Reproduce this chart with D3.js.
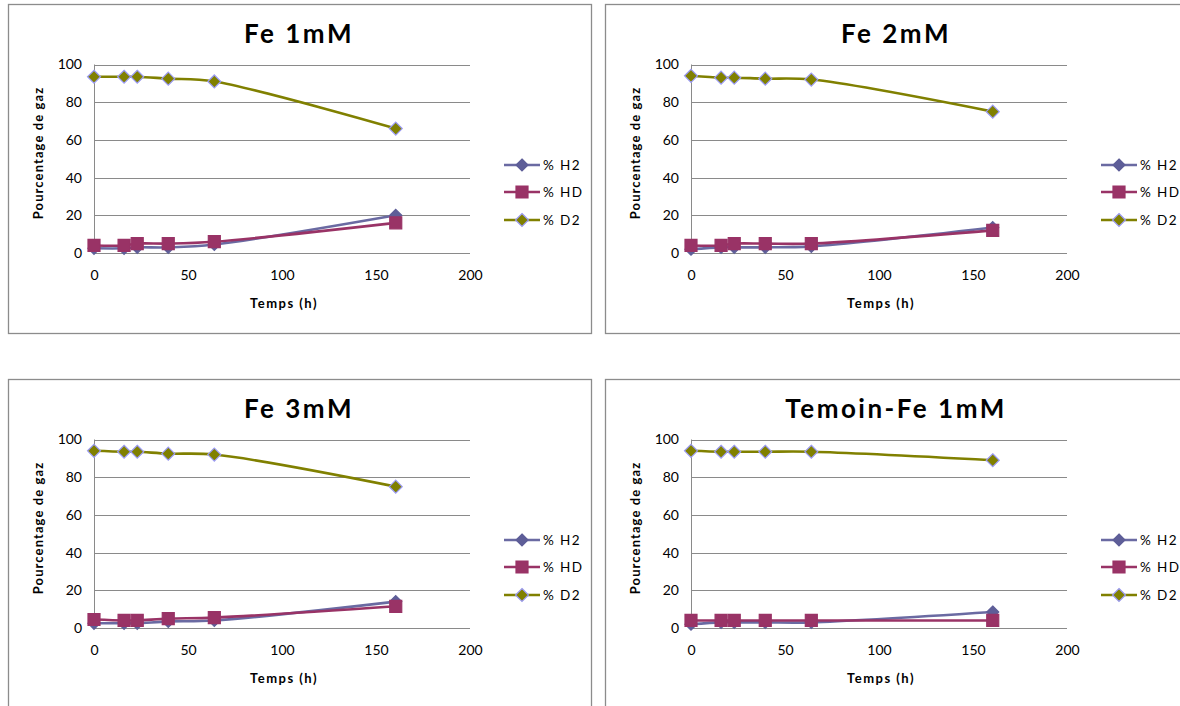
<!DOCTYPE html>
<html>
<head>
<meta charset="utf-8">
<script src="https://cdn.jsdelivr.net/npm/d3@7"></script>
<style>
  html, body { margin: 0; padding: 0; background: #ffffff; }
  svg { display: block; }
  text { font-family: Lato, "Open Sans", "Liberation Sans", sans-serif; fill: #000; }
</style>
</head>
<body>
<svg id="chart" width="1180" height="706"></svg>
<script>
// ---- data ----
const times = [0, 16, 23, 39.5, 64, 160.5];
const seriesNames = ["% H2", "% HD", "% D2"];
const panelTitles = ["Fe 1mM", "Fe 2mM", "Fe 3mM", "Temoin-Fe 1mM"];
const xTicks = [0, 50, 100, 150, 200];
const yTicks = [0, 20, 40, 60, 80, 100];

const fe1_H2 = [2.5, 2.5, 3, 3, 4.5, 20];
const fe1_HD = [4, 4, 5, 5, 6, 16];
const fe1_D2 = [93.5, 93.5, 93.5, 92.5, 91, 66];

const fe2_H2 = [2, 3, 3, 3, 3.5, 13.5];
const fe2_HD = [4, 4, 5, 5, 5, 12];
const fe2_D2 = [94, 93, 93, 92.5, 92, 75];

const fe3_H2 = [2.5, 2.5, 2.5, 3.5, 4, 14];
const fe3_HD = [4.5, 4, 4, 5, 5.5, 11.5];
const fe3_D2 = [94, 93.5, 93.5, 92.5, 92, 75];

const tem_H2 = [2, 3, 3, 3, 3, 8.5];
const tem_HD = [4, 4, 4, 4, 4, 4];
const tem_D2 = [94, 93.5, 93.5, 93.5, 93.5, 89];

const panelData = [
  [fe1_H2, fe1_HD, fe1_D2],
  [fe2_H2, fe2_HD, fe2_D2],
  [fe3_H2, fe3_HD, fe3_D2],
  [tem_H2, tem_HD, tem_D2]
];

// ---- styles ----
const styles = [
  { line: "#6A6AA2", fill: "#5E5E98", stroke: "#5E5E98", shape: "diamond", r: 6 },
  { line: "#993366", fill: "#993366", stroke: "#993366", shape: "square", r: 6 },
  { line: "#808000", fill: "#808000", stroke: "#9B9BF5", shape: "diamond", r: 6.5 }
];
const offsets = [[0, 0], [597, 0], [0, 375], [597, 375]];

const svg = d3.select("#chart");

function markerPath(shape, r) {
  const p = d3.path();
  if (shape === "square") {
    p.rect(-r, -r, 2 * r, 2 * r);
  } else {
    p.moveTo(0, -r); p.lineTo(r, 0); p.lineTo(0, r); p.lineTo(-r, 0); p.closePath();
  }
  return p.toString();
}

panelTitles.forEach((title, pi) => {
  const [dx, dy] = offsets[pi];
  const g = svg.append("g").attr("transform", `translate(${dx},${dy})`);

  // chart box
  g.append("rect")
    .attr("x", 8.5).attr("y", 4.5)
    .attr("width", 583).attr("height", 329)
    .attr("fill", "#fff")
    .attr("stroke", "#8c8c8c").attr("stroke-width", 1.3);

  const x = d3.scaleLinear().domain([0, 200]).range([94, 470]);
  const y = d3.scaleLinear().domain([0, 100]).range([253, 64.5]);

  // gridlines
  g.append("g").selectAll("line").data(yTicks).join("line")
    .attr("x1", x(0)).attr("x2", x(200))
    .attr("y1", d => Math.round(y(d)) + 0.5).attr("y2", d => Math.round(y(d)) + 0.5)
    .attr("stroke", "#8a8a8a").attr("stroke-width", 1);

  // y axis line
  g.append("line")
    .attr("x1", x(0) + 0.5).attr("x2", x(0) + 0.5)
    .attr("y1", y(0)).attr("y2", y(100))
    .attr("stroke", "#8a8a8a").attr("stroke-width", 1);

  // axes labels
  const yAxis = g.append("g").attr("transform", `translate(${x(0)},0)`)
    .call(d3.axisLeft(y).tickValues(yTicks).tickSize(0).tickPadding(12));
  yAxis.select(".domain").remove();
  yAxis.selectAll("text").style("font-size", "14px")
    .style("font-family", "Lato, 'Open Sans', sans-serif").attr("fill", "#000");

  const xAxis = g.append("g").attr("transform", `translate(0,${y(0)})`)
    .call(d3.axisBottom(x).tickValues(xTicks).tickSize(0).tickPadding(17));
  xAxis.select(".domain").remove();
  xAxis.selectAll("text").style("font-size", "14px")
    .style("font-family", "Lato, 'Open Sans', sans-serif").attr("fill", "#000");

  // title
  g.append("text")
    .attr("x", 299).attr("y", 43)
    .attr("text-anchor", "middle")
    .style("font-size", "26px").style("font-weight", "bold")
    .style("letter-spacing", "2.5px")
    .text(title);

  // axis titles
  g.append("text")
    .attr("x", 284).attr("y", 308)
    .attr("text-anchor", "middle")
    .style("font-size", "13px").style("font-weight", "bold")
    .style("letter-spacing", "1.5px")
    .text("Temps (h)");

  g.append("text")
    .attr("transform", `translate(43,153) rotate(-90)`)
    .attr("text-anchor", "middle")
    .style("font-size", "13px").style("font-weight", "bold")
    .style("letter-spacing", "1.1px")
    .text("Pourcentage de gaz");

  // series
  const lineGen = d3.line()
    .x(d => x(d[0])).y(d => y(d[1]))
    .curve(d3.curveCatmullRom.alpha(0.5));

  panelData[pi].forEach((vals, si) => {
    const st = styles[si];
    const pts = times.map((t, i) => [t, vals[i]]);
    g.append("path")
      .datum(pts)
      .attr("d", lineGen)
      .attr("fill", "none")
      .attr("stroke", st.line)
      .attr("stroke-width", 2.6)
      .attr("stroke-linejoin", "round");
    g.append("g").selectAll("path").data(pts).join("path")
      .attr("transform", d => `translate(${x(d[0])},${y(d[1])})`)
      .attr("d", markerPath(st.shape, st.r))
      .attr("fill", st.fill)
      .attr("stroke", st.stroke)
      .attr("stroke-width", 1.2);
  });

  // legend
  const legendY = [165, 192, 220];
  seriesNames.forEach((name, si) => {
    const st = styles[si];
    const ly = legendY[si];
    g.append("line")
      .attr("x1", 504).attr("x2", 540)
      .attr("y1", ly).attr("y2", ly)
      .attr("stroke", st.line).attr("stroke-width", 2.6);
    g.append("path")
      .attr("transform", `translate(522,${ly})`)
      .attr("d", markerPath(st.shape, st.r))
      .attr("fill", st.fill).attr("stroke", st.stroke).attr("stroke-width", 1.2);
    g.append("text")
      .attr("x", 543).attr("y", ly + 5)
      .style("font-size", "13.5px")
      .style("letter-spacing", "1.4px")
      .text(name);
  });
});
</script>
</body>
</html>
